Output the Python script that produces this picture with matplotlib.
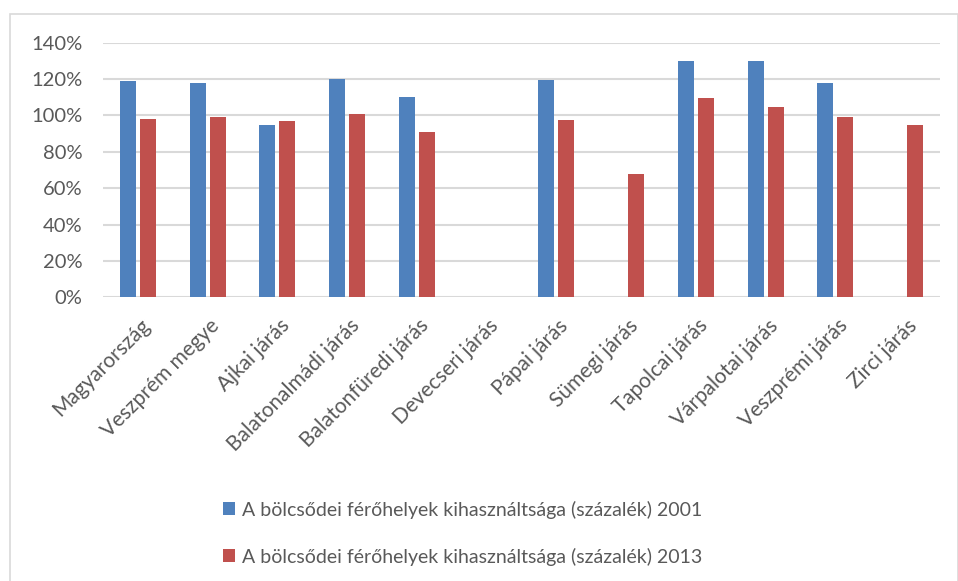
import matplotlib.pyplot as plt
from matplotlib.patches import Rectangle
from matplotlib.ticker import PercentFormatter
from matplotlib.transforms import ScaledTranslation
import numpy as np

plt.rcParams['font.family'] = ['Lato', 'DejaVu Sans']

categories = ['Magyarország', 'Veszprém megye', 'Ajkai járás', 'Balatonalmádi járás',
              'Balatonfüredi járás', 'Devecseri járás', 'Pápai járás', 'Sümegi járás',
              'Tapolcai járás', 'Várpalotai járás', 'Veszprémi járás', 'Zirci járás']
# nan = no data
values_2001 = [119, 118, 95, 120, 110, np.nan, 119.5, np.nan, 130, 130, 117.7, np.nan]
values_2013 = [98, 99, 97, 101, 91, np.nan, 97.3, 68, 109.6, 104.7, 99.2, 94.8]
series_names = ['A bölcsődei férőhelyek kihasználtsága (százalék) 2001',
                'A bölcsődei férőhelyek kihasználtsága (százalék) 2013']

blue = '#4f81bd'
red = '#c0504d'
text_col = '#595959'
grid_col = '#d9d9d9'

fig = plt.figure(figsize=(9.58, 5.81), dpi=100)
ax = fig.add_axes([103 / 958, 283.7 / 581, 837 / 958, 254.6 / 581])

x = np.arange(len(categories))
w = 0.23
b1 = ax.bar(x - 0.143, values_2001, w, color=blue, label=series_names[0])
b2 = ax.bar(x + 0.143, values_2013, w, color=red, label=series_names[1])

ax.set_xlim(-0.5, len(categories) - 0.5)
ax.set_ylim(0, 140)
ax.set_yticks(np.arange(0, 141, 20))
ax.yaxis.set_major_formatter(PercentFormatter(decimals=0))
ax.grid(axis='y', color=grid_col, linewidth=1.5)
ax.set_axisbelow(True)
for s in ax.spines.values():
    s.set_visible(False)
ax.tick_params(axis='y', length=0, labelsize=14.5, colors=text_col, pad=15)

ax.set_xticks(x)
ax.set_xticklabels(categories, rotation=45, ha='right', rotation_mode='anchor')
ax.tick_params(axis='x', length=0, labelsize=15, colors=text_col, pad=13)
shift = ScaledTranslation(2 / 100, 0, fig.dpi_scale_trans)
for lbl in ax.get_xticklabels():
    lbl.set_transform(lbl.get_transform() + shift)

fig.legend(handles=[b1, b2], loc='upper left', bbox_to_anchor=(205 / 958, 1 - 483 / 581),
           frameon=False, fontsize=14, labelcolor=text_col, handlelength=0.65,
           handleheight=0.65, handletextpad=0.35, labelspacing=1.5)

# chart border
fig.patches.append(Rectangle((10 / 958, -0.05), 947.5 / 958, 1.05 - 14 / 581,
                             transform=fig.transFigure, fill=False,
                             edgecolor='#d9d9d9', linewidth=1.2))

fig.savefig('out.png', dpi=100)
